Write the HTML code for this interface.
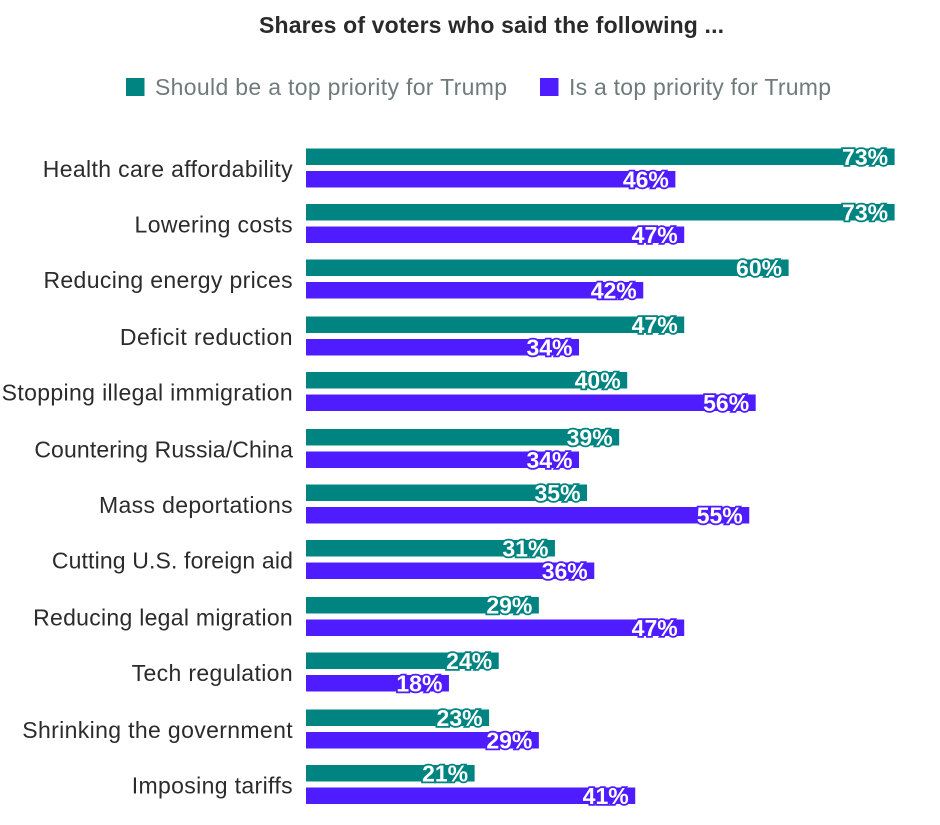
<!DOCTYPE html>
<html lang="en">
<head>
<meta charset="utf-8">
<title>Shares of voters who said the following</title>
<style>
html,body{margin:0;padding:0;background:#fff;width:940px;height:825px;overflow:hidden}
svg{display:block}
text{font-family:"Liberation Sans",sans-serif}
</style>
</head>
<body>
<svg id="chart" width="940" height="825" viewBox="0 0 940 825" xmlns="http://www.w3.org/2000/svg">
  <text x="259" y="33" font-size="23" font-weight="700" fill="#2a2a2a" textLength="465">Shares of voters who said the following ...</text>
  <g>
    <rect x="126" y="78" width="18.5" height="18" fill="#008481"></rect>
    <text x="155" y="95" font-size="23" fill="#6f7b7b" textLength="352">Should be a top priority for Trump</text>
    <rect x="540" y="78" width="18.5" height="18" fill="#4f1cff"></rect>
    <text x="569" y="95" font-size="23" fill="#6f7b7b" textLength="262">Is a top priority for Trump</text>
  </g>
  <g id="plot"></g>
</svg>
<script>
const categories = ["Health care affordability","Lowering costs","Reducing energy prices","Deficit reduction","Stopping illegal immigration","Countering Russia/China","Mass deportations","Cutting U.S. foreign aid","Reducing legal migration","Tech regulation","Shrinking the government","Imposing tariffs"];
const shouldBe = [73.3,73.3,60.1,47.1,40,39,35,31,29,24,22.8,21];
const isPriority = [46,47.1,42,34,56,34,55.2,35.9,47.1,17.8,29,41];

const NS = "http://www.w3.org/2000/svg";
const plot = document.getElementById("plot");
function xScale(v){ return 306 + v * 8.03; }
function yBand(i){ return 148.5 + 1.5 * Math.floor(i * 37.4); }
function slug(s){ return s.toLowerCase().replace(/[^a-z0-9]+/g, "-").replace(/^-|-$/g, ""); }

function addBar(i, v, offset, color, series){
  const y = yBand(i) + offset;
  const bar = document.createElementNS(NS, "rect");
  bar.setAttribute("x", xScale(0));
  bar.setAttribute("y", y);
  bar.setAttribute("width", xScale(v) - xScale(0));
  bar.setAttribute("height", 16.5);
  bar.setAttribute("fill", color);
  
  
  plot.appendChild(bar);

  const label = document.createElementNS(NS, "text");
  label.setAttribute("x", xScale(v) - 6.5);
  label.setAttribute("y", y + 16.5);
  label.setAttribute("text-anchor", "end");
  label.setAttribute("font-size", "23");
  label.setAttribute("font-weight", "700");
  label.setAttribute("fill", "#fff");
  label.setAttribute("stroke", color);
  label.setAttribute("stroke-width", "3.5");
  label.setAttribute("paint-order", "stroke");
  label.textContent = Math.round(v) + "%";
  
  
  plot.appendChild(label);
}

categories.forEach(function(name, i){
  const cat = document.createElementNS(NS, "text");
  cat.setAttribute("x", 293);
  cat.setAttribute("y", yBand(i) + 28.5);
  cat.setAttribute("text-anchor", "end");
  cat.setAttribute("font-size", "23");
  cat.setAttribute("fill", "#2b2b2b");
  cat.textContent = name;
  
  
  plot.appendChild(cat);
  // Liberation Sans is proportioned differently from the original face, so fit each label's spacing.
  const spacing = { "Countering Russia/China": 0.13, "Cutting U.S. foreign aid": 0.14, "Deficit reduction": 0.48, "Reducing legal migration": 0.28 };
  cat.setAttribute("letter-spacing", name in spacing ? spacing[name] : 0.36);
  addBar(i, shouldBe[i], 0, "#008481", "should-be");
  addBar(i, isPriority[i], 22.5, "#4f1cff", "is");
});
</script>
</body>
</html>
